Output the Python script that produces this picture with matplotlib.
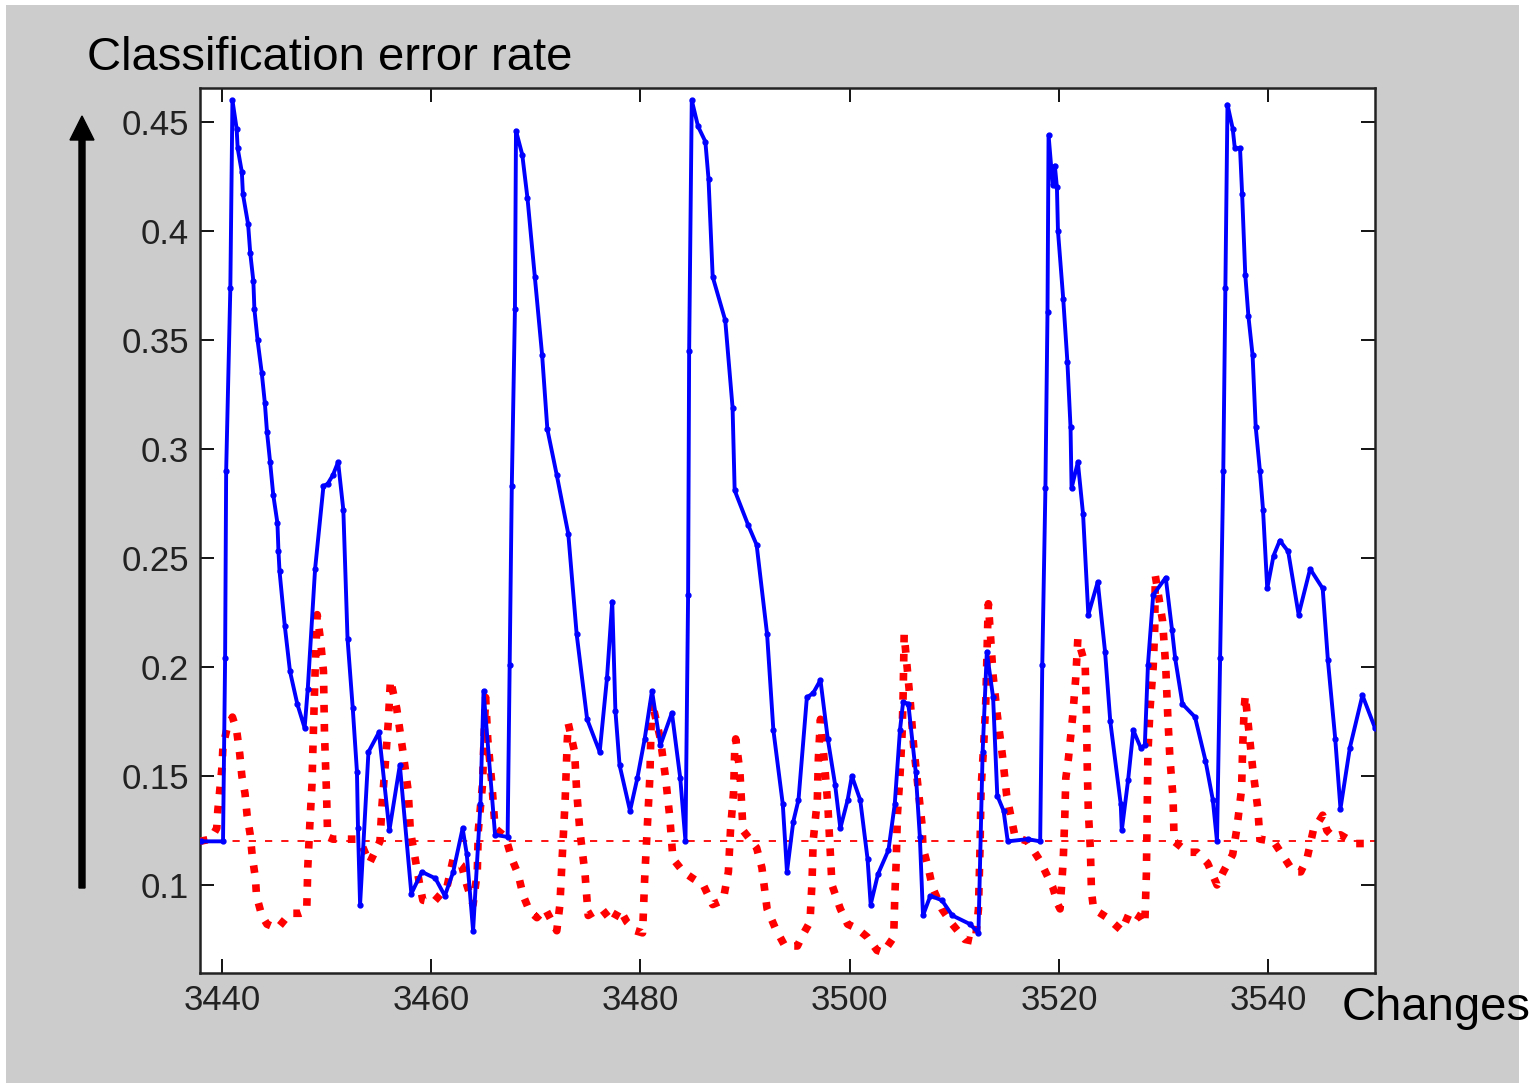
import numpy as np
import matplotlib
matplotlib.use("Agg")
import matplotlib.pyplot as plt
from matplotlib.patches import Rectangle, FancyArrow

# ── data ──
blue_x = [3438.0, 3440.1, 3440.3, 3440.4, 3440.8, 3441.0, 3441.4, 3441.5, 3441.9, 3442.0,
          3442.5, 3442.7, 3443.0, 3443.1, 3443.4, 3443.8, 3444.1, 3444.3, 3444.6, 3444.9,
          3445.3, 3445.4, 3445.5, 3446.0, 3446.5, 3447.2, 3447.9, 3448.2, 3448.9, 3449.7,
          3450.1, 3450.6, 3451.1, 3451.6, 3452.0, 3452.5, 3452.9, 3453.0, 3453.2, 3454.0,
          3455.0, 3456.0, 3457.0, 3458.1, 3459.1, 3460.4, 3461.3, 3462.1, 3463.0, 3463.4,
          3464.0, 3464.7, 3465.0, 3466.1, 3467.3, 3467.5, 3467.7, 3468.0, 3468.1, 3468.7,
          3469.2, 3469.9, 3470.6, 3471.1, 3472.0, 3473.1, 3473.9, 3474.9, 3476.1, 3476.8,
          3477.3, 3477.6, 3478.0, 3479.0, 3479.7, 3480.4, 3481.1, 3481.9, 3483.0, 3483.8,
          3484.3, 3484.55, 3484.65, 3484.9, 3485.5, 3486.2, 3486.5, 3486.9, 3488.1, 3488.8,
          3489.0, 3490.3, 3491.1, 3492.1, 3492.7, 3493.6, 3494.0, 3494.6, 3495.1, 3495.9,
          3496.5, 3497.2, 3497.9, 3498.6, 3499.1, 3499.8, 3500.2, 3501.0, 3501.7, 3502.0,
          3502.7, 3503.7, 3504.3, 3504.8, 3505.1, 3505.6, 3506.3, 3506.7, 3507.0, 3507.7,
          3508.8, 3509.8, 3511.5, 3512.3, 3512.7, 3513.1, 3513.7, 3514.1, 3514.7, 3515.1,
          3517.0, 3518.2, 3518.4, 3518.7, 3518.9, 3519.0, 3519.4, 3519.6, 3519.8, 3519.9,
          3520.4, 3520.8, 3521.1, 3521.2, 3521.8, 3522.3, 3522.8, 3523.7, 3524.4, 3524.9,
          3525.9, 3526.0, 3526.6, 3527.1, 3527.8, 3528.2, 3528.5, 3529.0, 3530.2, 3530.8,
          3531.1, 3531.8, 3533.0, 3534.0, 3534.7, 3535.1, 3535.4, 3535.7, 3535.9, 3536.1,
          3536.6, 3536.8, 3537.3, 3537.5, 3537.8, 3538.1, 3538.5, 3538.8, 3539.2, 3539.5,
          3539.9, 3540.5, 3541.1, 3541.9, 3542.9, 3544.0, 3545.2, 3545.7, 3546.4, 3546.9,
          3547.8, 3549.0, 3550.2]
blue_y = [0.120, 0.120, 0.204, 0.290, 0.374, 0.460, 0.447, 0.438, 0.427, 0.417,
          0.403, 0.390, 0.377, 0.364, 0.350, 0.335, 0.321, 0.308, 0.294, 0.279,
          0.266, 0.253, 0.244, 0.219, 0.198, 0.183, 0.172, 0.190, 0.245, 0.283,
          0.284, 0.288, 0.294, 0.272, 0.213, 0.181, 0.152, 0.126, 0.091, 0.161,
          0.170, 0.125, 0.155, 0.096, 0.106, 0.103, 0.095, 0.106, 0.126, 0.114,
          0.079, 0.137, 0.189, 0.123, 0.122, 0.201, 0.283, 0.364, 0.446, 0.435,
          0.415, 0.379, 0.343, 0.309, 0.288, 0.261, 0.215, 0.176, 0.161, 0.195,
          0.230, 0.180, 0.155, 0.134, 0.149, 0.167, 0.189, 0.164, 0.179, 0.149,
          0.120, 0.233, 0.345, 0.460, 0.448, 0.441, 0.424, 0.379, 0.359, 0.319,
          0.281, 0.265, 0.256, 0.215, 0.171, 0.137, 0.106, 0.129, 0.139, 0.186,
          0.188, 0.194, 0.167, 0.146, 0.126, 0.139, 0.150, 0.139, 0.112, 0.091,
          0.105, 0.116, 0.137, 0.171, 0.184, 0.183, 0.152, 0.122, 0.086, 0.095,
          0.093, 0.086, 0.082, 0.078, 0.161, 0.207, 0.186, 0.141, 0.134, 0.120,
          0.121, 0.120, 0.201, 0.282, 0.363, 0.444, 0.421, 0.430, 0.420, 0.400,
          0.369, 0.340, 0.310, 0.282, 0.294, 0.270, 0.224, 0.239, 0.207, 0.175,
          0.137, 0.125, 0.148, 0.171, 0.163, 0.164, 0.201, 0.233, 0.241, 0.217,
          0.204, 0.183, 0.177, 0.157, 0.139, 0.120, 0.204, 0.290, 0.374, 0.458,
          0.447, 0.438, 0.438, 0.417, 0.380, 0.361, 0.343, 0.310, 0.290, 0.272,
          0.236, 0.251, 0.258, 0.253, 0.224, 0.245, 0.236, 0.203, 0.167, 0.135,
          0.163, 0.187, 0.172]

red_x = [3437.9, 3438.9, 3439.5, 3439.6, 3439.8, 3440.0, 3440.1, 3440.5, 3441.0, 3441.4,
         3441.7, 3441.9, 3442.2, 3442.4, 3442.7, 3442.9, 3443.2, 3443.3, 3443.8, 3444.3,
         3445.3, 3446.5, 3447.5, 3448.1, 3448.2, 3448.4, 3448.6, 3448.7, 3448.9, 3449.1,
         3449.4, 3449.7, 3449.8, 3450.0, 3450.1, 3450.6, 3452.9, 3453.4, 3454.1, 3455.1,
         3455.3, 3455.6, 3455.9, 3456.1, 3456.7, 3457.3, 3457.8, 3458.0, 3458.5, 3458.9,
         3459.2, 3460.2, 3461.5, 3462.1, 3462.9, 3463.4, 3464.0, 3464.4, 3464.5, 3464.9,
         3465.1, 3465.2, 3465.4, 3465.8, 3466.1, 3467.1, 3467.7, 3468.3, 3468.8, 3469.4,
         3470.1, 3470.9, 3472.0, 3472.3, 3472.5, 3472.8, 3473.0, 3473.1, 3473.7, 3473.9,
         3474.2, 3474.7, 3475.0, 3475.7, 3476.3, 3477.3, 3478.0, 3478.7, 3479.5, 3480.2,
         3480.4, 3480.7, 3480.9, 3481.0, 3481.1, 3481.9, 3482.4, 3482.8, 3483.1, 3484.1,
         3485.0, 3486.0, 3486.9, 3487.9, 3488.4, 3488.6, 3488.9, 3489.0, 3489.1, 3489.5,
         3489.8, 3491.1, 3491.6, 3492.1, 3492.9, 3493.8, 3495.0, 3495.5, 3496.2, 3496.4,
         3496.5, 3496.9, 3497.0, 3497.2, 3497.6, 3497.9, 3498.1, 3498.3, 3499.1, 3499.8,
         3500.7, 3501.7, 3502.6, 3503.2, 3504.2, 3504.3, 3504.45, 3504.55, 3504.8, 3505.0,
         3505.1, 3505.2, 3505.8, 3506.1, 3506.5, 3506.9, 3507.0, 3507.5, 3507.9, 3508.8,
         3509.8, 3511.0, 3512.0, 3512.3, 3512.45, 3512.55, 3512.8, 3513.0, 3513.1, 3513.2,
         3513.25, 3513.7, 3514.1, 3514.6, 3515.0, 3515.8, 3517.0, 3518.2, 3519.4, 3519.9,
         3520.1, 3520.4, 3520.55, 3520.65, 3520.9, 3521.3, 3521.6, 3521.8, 3522.5, 3522.6,
         3522.7, 3522.8, 3523.0, 3523.1, 3523.3, 3524.6, 3526.0, 3526.8, 3527.8, 3528.2,
         3528.35, 3528.4, 3528.45, 3528.5, 3528.7, 3529.0, 3529.15, 3529.2, 3529.9, 3530.2,
         3530.4, 3530.6, 3530.9, 3531.0, 3532.3, 3533.2, 3534.2, 3535.1, 3535.7, 3536.6,
         3537.0, 3537.45, 3537.55, 3537.7, 3537.8, 3538.5, 3539.0, 3539.2, 3540.5, 3541.6,
         3542.4, 3543.1, 3543.7, 3544.3, 3545.2, 3545.6, 3546.2, 3546.9, 3548.3, 3549.3,
         3550.0]
red_y = [0.120, 0.121, 0.126, 0.134, 0.144, 0.154, 0.164, 0.172, 0.177, 0.171,
         0.160, 0.150, 0.142, 0.132, 0.123, 0.113, 0.103, 0.095, 0.086, 0.082,
         0.080, 0.087, 0.087, 0.088, 0.108, 0.128, 0.146, 0.164, 0.198, 0.224,
         0.213, 0.198, 0.169, 0.141, 0.122, 0.121, 0.121, 0.118, 0.110, 0.120,
         0.137, 0.155, 0.175, 0.194, 0.181, 0.161, 0.143, 0.125, 0.111, 0.100,
         0.093, 0.092, 0.099, 0.112, 0.109, 0.100, 0.091, 0.106, 0.125, 0.146,
         0.175, 0.186, 0.167, 0.146, 0.126, 0.122, 0.112, 0.105, 0.095, 0.088,
         0.085, 0.089, 0.079, 0.091, 0.111, 0.139, 0.166, 0.174, 0.161, 0.143,
         0.125, 0.105, 0.086, 0.088, 0.089, 0.083, 0.089, 0.083, 0.079, 0.078,
         0.103, 0.131, 0.150, 0.171, 0.184, 0.167, 0.149, 0.131, 0.112, 0.106,
         0.103, 0.100, 0.091, 0.093, 0.106, 0.125, 0.143, 0.161, 0.167, 0.152,
         0.125, 0.117, 0.108, 0.089, 0.080, 0.072, 0.072, 0.077, 0.083, 0.102,
         0.120, 0.139, 0.158, 0.176, 0.155, 0.137, 0.118, 0.100, 0.089, 0.082,
         0.080, 0.076, 0.070, 0.069, 0.076, 0.094, 0.112, 0.132, 0.150, 0.169,
         0.187, 0.215, 0.183, 0.164, 0.146, 0.128, 0.117, 0.108, 0.099, 0.089,
         0.082, 0.075, 0.074, 0.089, 0.117, 0.144, 0.164, 0.184, 0.204, 0.222,
         0.229, 0.196, 0.178, 0.159, 0.141, 0.122, 0.120, 0.111, 0.099, 0.091,
         0.089, 0.111, 0.131, 0.149, 0.158, 0.177, 0.195, 0.213, 0.201, 0.183,
         0.154, 0.134, 0.116, 0.097, 0.089, 0.085, 0.079, 0.088, 0.085, 0.082,
         0.105, 0.125, 0.143, 0.161, 0.181, 0.200, 0.218, 0.242, 0.221, 0.200,
         0.177, 0.158, 0.140, 0.120, 0.115, 0.115, 0.110, 0.100, 0.106, 0.114,
         0.126, 0.144, 0.163, 0.181, 0.187, 0.154, 0.135, 0.121, 0.120, 0.112,
         0.106, 0.106, 0.112, 0.125, 0.132, 0.125, 0.122, 0.123, 0.119, 0.119,
         0.120]

ref_level = 0.12
x_ticks = [3440, 3460, 3480, 3500, 3520, 3540]
y_ticks = [0.1, 0.15, 0.2, 0.25, 0.3, 0.35, 0.4, 0.45]
y_ticklabels = ["0.1", "0.15", "0.2", "0.25", "0.3", "0.35", "0.4", "0.45"]

fig = plt.figure(figsize=(15.37, 10.86), dpi=100, facecolor="white")

# grey slide background (drawn beneath the axes)
fig.patches.append(Rectangle((6 / 1537, 1 - 1083 / 1086), (1519 - 6) / 1537, (1083 - 5) / 1086,
                             transform=fig.transFigure, facecolor="#cccccc",
                             edgecolor="none", zorder=-5))

ax = fig.add_axes([200 / 1537, 1 - 973 / 1086, 1175 / 1537, 885 / 1086])
ax.set_facecolor("white")

ax.axhline(ref_level, color="red", lw=1.3, ls=(0, (4, 5)), zorder=2)
ax.plot(red_x, red_y, color="red", lw=5.5, ls=(0, (1, 1.5)), zorder=3)
ax.plot(blue_x, blue_y, color="blue", lw=2.8, marker=".", ms=7, zorder=4)

ax.set_xlim(3437.9, 3550.2)
ax.set_ylim(0.0596, 0.4656)
ax.set_xticks(x_ticks)
ax.set_yticks(y_ticks)
ax.set_yticklabels(y_ticklabels)

tick_font = ["Liberation Sans Narrow", "Liberation Sans", "DejaVu Sans"]
ax.tick_params(direction="in", length=10, width=1.3, top=True, right=True,
               labelsize=25, pad=8, colors="black")
for lab in ax.get_xticklabels() + ax.get_yticklabels():
    lab.set_family(tick_font)
    lab.set_color("#222222")
for sp in ax.spines.values():
    sp.set_linewidth(1.8)
    sp.set_color("#222222")

# arrow and axis captions
fig.patches.append(FancyArrow(82 / 1537, 1 - 888 / 1086, 0, (888 - 140) / 1086,
                              width=6 / 1537, head_width=24 / 1537,
                              head_length=24 / 1086, length_includes_head=False,
                              transform=fig.transFigure, color="black", zorder=5))
fig.text(87 / 1537, 1 - 70 / 1086, "Classification error rate", fontsize=34,
         family=["Liberation Sans", "DejaVu Sans"], ha="left", va="baseline")
fig.text(1342 / 1537, 1 - 1020 / 1086, "Changes", fontsize=34,
         family=["Liberation Sans", "DejaVu Sans"], ha="left", va="baseline")

fig.savefig("out.png", dpi=100, facecolor="white")
